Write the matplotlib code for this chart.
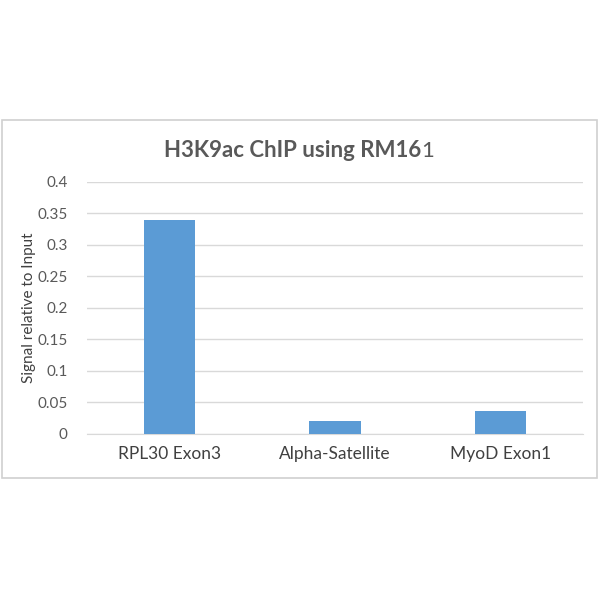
import matplotlib
matplotlib.use("Agg")
import matplotlib.pyplot as plt
from matplotlib.patches import Rectangle

# data
categories = ["RPL30 Exon3", "Alpha-Satellite", "MyoD Exon1"]
signal = [0.34, 0.02, 0.036]
yticks = [0, 0.05, 0.1, 0.15, 0.2, 0.25, 0.3, 0.35, 0.4]
ytick_labels = ["0", "0.05", "0.1", "0.15", "0.2", "0.25", "0.3", "0.35", "0.4"]

plt.rcParams['font.family'] = ['Lato', 'DejaVu Sans']
grey = '#595959'

fig = plt.figure(figsize=(6, 6), dpi=100)
fig.patch.set_facecolor('white')

# chart frame like an Excel chart area
fig.patches.append(Rectangle((0.004, 0.203), 0.991, 0.597, transform=fig.transFigure,
                             fill=False, edgecolor='#d0d0d0', linewidth=1.2))

ax = fig.add_axes([0.145, 0.2767, 0.827, 0.42])
x = range(len(categories))
ax.bar(x, signal, width=0.31, color='#5b9bd5', zorder=3)
ax.set_xlim(-0.5, 2.5)
ax.set_ylim(0, 0.4)
ax.set_yticks(yticks)
ax.set_yticklabels(ytick_labels, fontsize=11, color=grey)
ax.set_xticks(list(x))
ax.set_xticklabels(categories, fontsize=12.5, color='#404040')
ax.tick_params(axis='both', length=0)
ax.tick_params(axis='y', pad=14)
ax.tick_params(axis='x', pad=9)
ax.grid(axis='y', color='#d9d9d9', linewidth=1, zorder=0)
for side in ['top', 'right', 'left']:
    ax.spines[side].set_visible(False)
ax.spines['bottom'].set_color('#d9d9d9')
ax.set_ylabel('Signal relative to Input', fontsize=11, color='#404040', labelpad=1)

# title: last "1" is not bold in the reference
t1 = fig.text(0.488, 0.749, 'H3K9ac ChIP using RM16', fontsize=16, fontweight='bold',
              color=grey, ha='center', va='center')
fig.canvas.draw()
bb = t1.get_window_extent()
fig.text(bb.x1 / fig.bbox.width, 0.749, '1', fontsize=16, color=grey, ha='left', va='center')

fig.savefig('out.png', dpi=100)
